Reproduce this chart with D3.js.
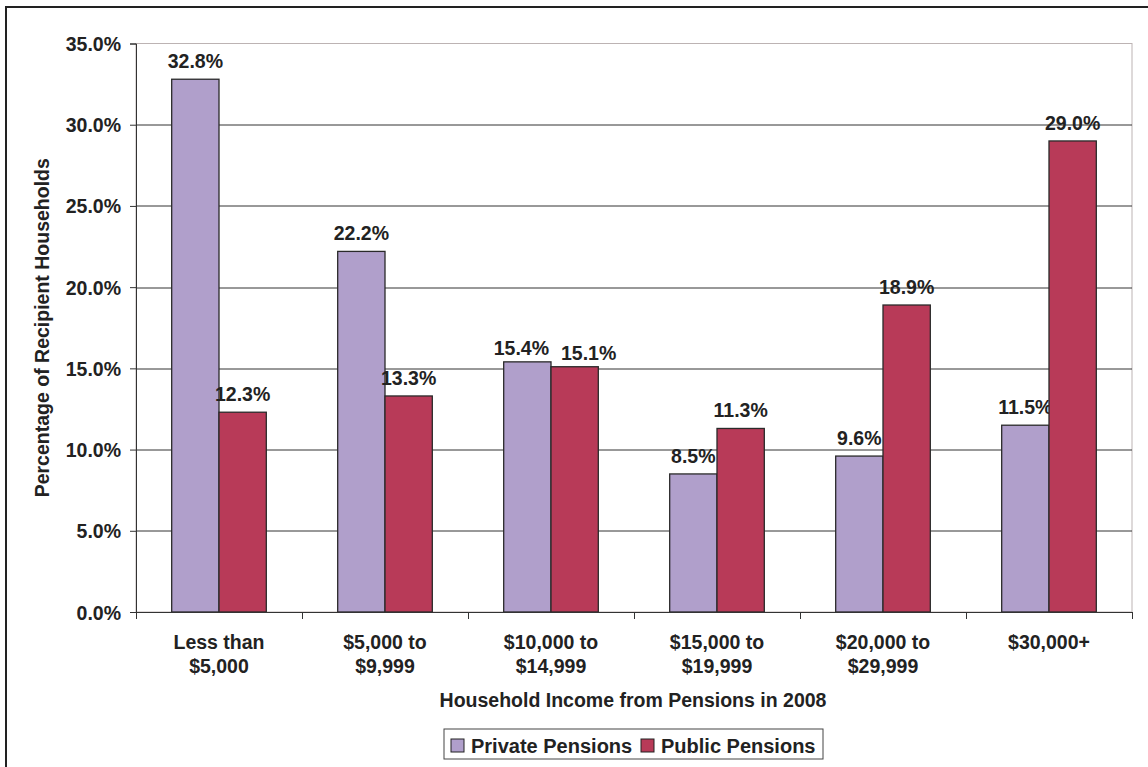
<!DOCTYPE html>
<html>
<head>
<meta charset="utf-8">
<script src="https://cdn.jsdelivr.net/npm/d3@7"></script>
<style>
  body { margin: 0; background: #fff; }
  svg text { font-family: "Liberation Sans", Arial, sans-serif; font-weight: bold; fill: #222; }
</style>
</head>
<body>
<div id="chart"></div>
<script>
const PURPLE = "#b09fcb"
const CRIMSON = "#b83a58"

// income brackets, each label split over lines
const categories = [
  ["Less than", "$5,000"],
  ["$5,000 to", "$9,999"],
  ["$10,000 to", "$14,999"],
  ["$15,000 to", "$19,999"],
  ["$20,000 to", "$29,999"],
  ["$30,000+"]
];
const seriesNames = ["Private Pensions", "Public Pensions"];
const privateValues = [32.8, 22.2, 15.4, 8.5, 9.6, 11.5];
const publicValues = [12.3, 13.3, 15.1, 11.3, 18.9, 29.0];
const yTicks = [0, 5, 10, 15, 20, 25, 30, 35];

const width = 1148, height = 767;
const margin = {top: 43.5, right: 16, bottom: 155, left: 136};
const plotW = width - margin.left - margin.right;
const plotH = height - margin.top - margin.bottom;
const FONT = "19.5px";

const svg = d3.select("#chart").append("svg")
  .attr("width", width)
  .attr("height", height);

// outer frame (only top and left edges show in the picture)
svg.append("path")
  .attr("d", "M6,767 V7 H1148")
  .attr("fill", "none")
  .attr("stroke", "#222")
  .attr("stroke-width", 2);

const g = svg.append("g")
  .attr("transform", "translate(" + margin.left + "," + margin.top + ")");

const x = d3.scaleBand()
  .domain(d3.range(categories.length))
  .range([0, plotW]);

const x1 = d3.scaleBand()
  .domain([0, 1])
  .range([x.bandwidth() * 0.215, x.bandwidth() * 0.785]);

const y = d3.scaleLinear()
  .domain([0, 35])
  .range([plotH, 0]);

// plot frame
g.append("rect")
  .attr("x", 0).attr("y", 0)
  .attr("width", plotW).attr("height", plotH)
  .attr("fill", "none")
  .attr("stroke", "#bcb3b3")
  .attr("stroke-width", 1);

// gridlines
g.selectAll(".grid")
  .data(yTicks.filter(d => d > 0 && d < 35))
  .enter().append("line")
  .attr("class", "grid")
  .attr("x1", 0).attr("x2", plotW)
  .attr("y1", d => Math.round(y(d)) + 0.5)
  .attr("y2", d => Math.round(y(d)) + 0.5)
  .attr("stroke", "#333")
  .attr("stroke-width", 1);

// y axis
const yAxis = g.append("g")
  .call(d3.axisLeft(y).tickValues(yTicks).tickSize(6).tickPadding(9)
    .tickFormat(d => d.toFixed(1) + "%"));
yAxis.select(".domain").attr("stroke", "#333");
yAxis.selectAll(".tick line").attr("stroke", "#333");
yAxis.selectAll("text")
  .style("font-size", FONT)
  .style("font-family", "Liberation Sans, Arial, sans-serif")
  .style("font-weight", "bold")
  .attr("dy", "0.36em")
  .attr("fill", "#222");

// bars
const series = [privateValues, publicValues];
const colors = [PURPLE, CRIMSON];
const labels = [];

series.forEach((vals, s) => {
  g.selectAll(".bar" + s)
    .data(vals)
    .enter().append("rect")
    .attr("class", "bar" + s)
    .attr("x", (d, i) => x(i) + x1(s))
    .attr("y", d => y(d))
    .attr("width", x1.bandwidth())
    .attr("height", d => plotH - y(d))
    .attr("fill", colors[s])
    .attr("stroke", "#2a2a2a")
    .attr("stroke-width", 1.3);

  labels[s] = g.selectAll(".lbl" + s)
    .data(vals)
    .enter().append("text")
    .attr("class", "lbl" + s)
    .attr("x", (d, i) => x(i) + x1(s) + x1.bandwidth() / 2)
    .attr("y", d => y(d) - 11)
    .attr("text-anchor", "middle")
    .style("font-size", FONT)
    .text(d => d.toFixed(1) + "%");
});

// push apart the two labels of a group when they would touch
const leftNodes = labels[0].nodes(), rightNodes = labels[1].nodes();
leftNodes.forEach((ln, i) => {
  const rn = rightNodes[i];
  const lb = ln.getBBox(), rb = rn.getBBox();
  const vertOverlap = lb.y < rb.y + rb.height && rb.y < lb.y + lb.height;
  const need = (lb.x + lb.width + 12) - rb.x;
  if (vertOverlap && need > 0) {
    d3.select(ln).attr("x", +d3.select(ln).attr("x") - 6).attr("y", +d3.select(ln).attr("y") + 4);
    d3.select(rn).attr("x", +d3.select(rn).attr("x") + need - 6).attr("y", +d3.select(rn).attr("y") + 4);
  }
});

// x axis
const xAxis = g.append("g")
  .attr("transform", "translate(0," + plotH + ")");
xAxis.append("line")
  .attr("x1", 0).attr("x2", plotW)
  .attr("y1", 0.5).attr("y2", 0.5)
  .attr("stroke", "#333");
xAxis.selectAll(".xtick")
  .data(d3.range(categories.length + 1))
  .enter().append("line")
  .attr("class", "xtick")
  .attr("x1", d => Math.round(d * x.step()) + 0.5)
  .attr("x2", d => Math.round(d * x.step()) + 0.5)
  .attr("y1", 0).attr("y2", 7)
  .attr("stroke", "#333");

const catText = xAxis.selectAll(".cat")
  .data(categories)
  .enter().append("text")
  .attr("class", "cat")
  .attr("x", (d, i) => x(i) + x.bandwidth() / 2)
  .attr("y", 37)
  .attr("text-anchor", "middle")
  .style("font-size", FONT);
catText.selectAll("tspan")
  .data(d => d)
  .enter().append("tspan")
  .attr("x", function() { return d3.select(this.parentNode).attr("x"); })
  .attr("dy", (d, i) => i === 0 ? 0 : 24)
  .text(d => d);

// axis titles
svg.append("text")
  .attr("x", 633)
  .attr("y", 707)
  .attr("text-anchor", "middle")
  .style("font-size", FONT)
  .text("Household Income from Pensions in 2008");

svg.append("text")
  .attr("transform", "translate(49," + (margin.top + plotH / 2) + ") rotate(-90)")
  .attr("text-anchor", "middle")
  .style("font-size", FONT)
  .text("Percentage of Recipient Households");

// legend
const legend = svg.append("g").attr("transform", "translate(444,729)");
legend.append("rect")
  .attr("width", 379).attr("height", 30)
  .attr("fill", "#fff")
  .attr("stroke", "#444");
const legendX = [7, 197];
seriesNames.forEach((name, s) => {
  legend.append("rect")
    .attr("x", legendX[s]).attr("y", 10)
    .attr("width", 13).attr("height", 13)
    .attr("fill", colors[s])
    .attr("stroke", "#222");
  legend.append("text")
    .attr("x", legendX[s] + 20).attr("y", 24)
    .style("font-size", "20px")
    .text(name);
});
</script>
</body>
</html>
